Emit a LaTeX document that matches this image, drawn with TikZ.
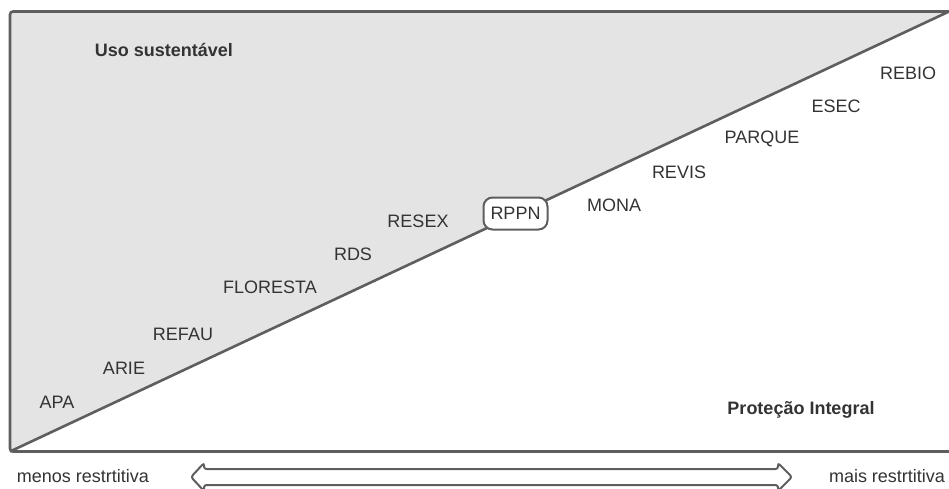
\documentclass[tikz,border=0pt]{standalone}
\usepackage{fontspec}
\setmainfont{Liberation Sans}
\definecolor{linegray}{HTML}{5E5E5E}
\definecolor{fillgray}{HTML}{E4E4E4}
\definecolor{textgray}{HTML}{333333}
\begin{document}
\begin{tikzpicture}[x=1pt,y=-1pt,
  lbl/.style={text=textgray,font=\fontsize{18}{21}\selectfont,inner sep=0pt},
  bold/.style={lbl,font=\fontsize{18}{21}\selectfont\bfseries},
  edge/.style={draw=linegray,line width=2.6pt},
  rppnbox/.style={lbl,draw=linegray,line width=2pt,fill=white,rounded corners=9pt,minimum width=64pt,minimum height=32pt}]
\useasboundingbox (0,0) rectangle (949,488);
\clip (0,0) rectangle (949,488);
\coordinate (bl) at (10,451.5);
\coordinate (tl) at (10,11.5);
\coordinate (tr) at (949,11.5);
\coordinate (br) at (955,451.5);
\coordinate (trr) at (955,11.5);
% grey triangle
\fill[fillgray] (bl) -- (tl) -- (tr) -- cycle;
% frame
\draw[edge,rounded corners=3pt] (trr) -- (tl) -- (bl) -- (br);
% diagonal
\draw[edge] (bl) -- (tr);
% labels
\node[bold] (uso) at (164,50) {Uso sustentável};
\node[bold] (pi) at (801,410) {Proteção Integral};
\node[lbl] (rebio) at (908,73) {REBIO};
\node[lbl] (esec) at (836,106) {ESEC};
\node[lbl] (parque) at (762,139) {PARQUE};
\node[lbl] (revis) at (679,172) {REVIS};
\node[lbl] (mona) at (614,205) {MONA};
\node[rppnbox] (rppn) at (515.5,213.5) {RPPN};
\node[lbl] (resex) at (418,221) {RESEX};
\node[lbl] (rds) at (353,254) {RDS};
\node[lbl] (floresta) at (270,287) {FLORESTA};
\node[lbl] (refau) at (183,334) {REFAU};
\node[lbl] (arie) at (124,368) {ARIE};
\node[lbl] (apa) at (57,402) {APA};
\node[lbl] (menos) at (83,476) {menos restrtitiva};
\node[lbl] (mais) at (887,476) {mais restrtitiva};
% double arrow
\draw[draw=linegray,line width=2pt,rounded corners=2.5pt]
  (191,477) -- (204,463) -- (204,469) -- (778,469) -- (778,463) -- (792,477)
  -- (778,491) -- (778,485) -- (204,485) -- (204,491) -- cycle;
\end{tikzpicture}
\end{document}
